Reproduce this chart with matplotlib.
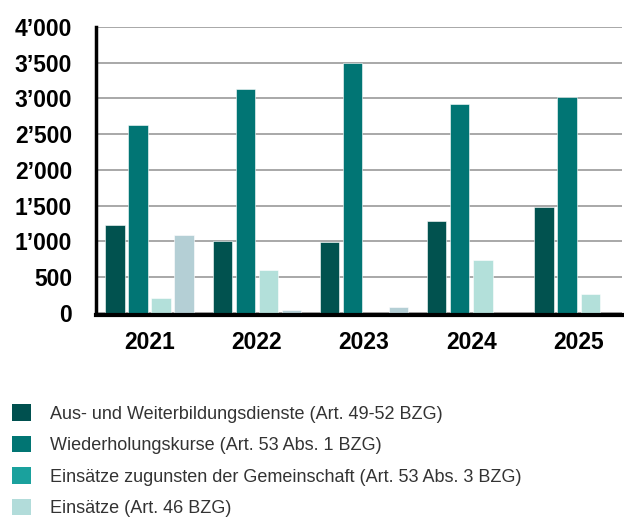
import numpy as np
import matplotlib
matplotlib.use('Agg')
import matplotlib.pyplot as plt
from matplotlib.patches import Patch
from matplotlib.ticker import FuncFormatter

plt.rcParams['font.family'] = ['Liberation Sans', 'DejaVu Sans']

# Diensttage in Tausend, je Jahr
years = ['2021', '2022', '2023', '2024', '2025']
ausbildung = [1230, 1010, 985, 1290, 1480]
wk = [2630, 3130, 3500, 2925, 3020]
gemeinschaft = [210, 590, 0, 740, 265]
einsaetze = [1085, 40, 72, 0, 0]

labels = ['Aus- und Weiterbildungsdienste (Art. 49-52 BZG)',
          'Wiederholungskurse (Art. 53 Abs. 1 BZG)',
          'Einsätze zugunsten der Gemeinschaft (Art. 53 Abs. 3 BZG)',
          'Einsätze (Art. 46 BZG)']
bar_colors = ['#01524f', '#017574', '#b3e0da', '#b4cfd5']
legend_colors = ['#00504f', '#017573', '#1aa19d', '#b2dcda']

series = [ausbildung, wk, gemeinschaft, einsaetze]

fig = plt.figure(figsize=(6.24, 5.21), dpi=100)
ax = fig.add_axes([0.1534, 0.40, 0.8436, 0.548])

# spine first: moving it resets the axis tick styling
for s in ['top', 'right']:
    ax.spines[s].set_visible(False)
ax.spines['bottom'].set_position(('outward', 1.5))
ax.spines['left'].set_linewidth(2.5)
ax.spines['bottom'].set_linewidth(3)
ax.spines['left'].set_zorder(4)
ax.spines['bottom'].set_zorder(4)

x = np.arange(len(years))
slot = 0.2144
width = 0.18
for i, (vals, col) in enumerate(zip(series, bar_colors)):
    ax.bar(x + (i - 1.5) * slot, vals, width, color=col,
           edgecolor='white', linewidth=0.4, zorder=3)

ax.set_ylim(0, 4000)
ax.set_xlim(-0.5, 4.405)
ax.set_yticks(range(0, 4001, 500))
ax.yaxis.set_major_formatter(FuncFormatter(
    lambda v, p: '{:,}'.format(int(v)).replace(',', '\u2019')))
ax.set_xticks(x)
ax.set_xticklabels(years)
ax.tick_params(axis='both', labelsize=16.5)
for lab in ax.get_xticklabels() + ax.get_yticklabels():
    lab.set_fontweight('bold')
ax.tick_params(axis='y', length=0, pad=17)
ax.tick_params(axis='x', length=0, pad=12)

ax.grid(axis='y', color='#a8a8a8', linewidth=1.4, zorder=0)

handles = [Patch(facecolor=c, edgecolor='none') for c in legend_colors]
fig.legend(handles, labels, loc='upper left', bbox_to_anchor=(0.019, 0.2245),
           frameon=False, fontsize=13, borderpad=0, borderaxespad=0,
           handlelength=1.05, handleheight=1.05, handletextpad=1.05,
           labelspacing=0.72, labelcolor='#333333')

fig.savefig('out.png', dpi=100)
